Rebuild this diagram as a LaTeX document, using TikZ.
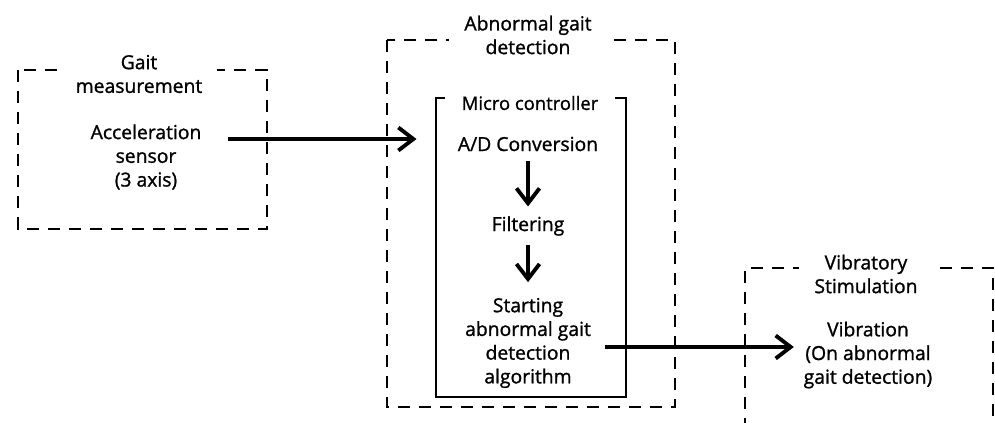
\documentclass[tikz,border=0pt]{standalone}
\usepackage{fontspec}
\setmainfont{Open Sans}[FakeBold=1.2]
\usetikzlibrary{arrows.meta, positioning, calc}

\begin{document}
\begin{tikzpicture}[
    x=0.02cm, y=-0.02cm,
    group/.style={draw, line width=1.3pt, dash pattern=on 0.25cm off 0.17cm},
    grouptitle/.style={fill=white, inner xsep=0.3cm, inner ysep=1pt, align=center, font=\fontsize{11}{13.5}\selectfont},
    txt/.style={align=center, font=\fontsize{11}{13.5}\selectfont, inner sep=2pt},
    flow/.style={-{Straight Barb[length=0.3cm, width=0.46cm]}, line width=2.2pt},
]
    \useasboundingbox (0,0) rectangle (995,423);

    % dashed groups
    \draw[group] (18,70) rectangle (267,229);
    \draw[group] (387,40) rectangle (675,407);
    \draw[group] (745,430) -- (745,268) -- (993,268) -- (993,430);
    % micro controller frame
    \draw[line width=1.5pt] (436,98) rectangle (626,397);

    \node[grouptitle] (gmeas) at (139,74) {Gait\\measurement};
    \node[grouptitle] (agd) at (528,35) {Abnormal gait\\detection};
    \node[grouptitle] (vstim) at (866,274) {Vibratory\\Stimulation};
    \node[grouptitle, inner xsep=0.33cm, font=\fontsize{10.5}{13}\selectfont] (mcu) at (530,103) {Micro controller};

    \node[txt] (sensor) at (146,157) {Acceleration\\sensor\\(3 axis)};
    \node[txt] (adc) at (528,144) {A/D Conversion};
    \node[txt] (filt) at (528,226) {Filtering};
    \node[txt] (algo) at (528,343) {Starting\\abnormal gait\\detection\\algorithm};
    \node[txt] (vib) at (868,355) {Vibration\\(On abnormal\\gait detection)};

    \draw[flow] ([xshift=0.45cm]sensor.east |- 0,139) -- ([xshift=-0.75cm]adc.west |- 0,139);
    \draw[flow, shorten <=0.12cm, shorten >=0.12cm] (adc) -- (filt);
    \draw[flow, shorten <=0.1cm, shorten >=0.24cm] (filt) -- (filt |- algo.north);
    \draw[flow] ([xshift=0.2cm]algo.east |- 0,347) -- ([xshift=-0.12cm]vib.west |- 0,347);
\end{tikzpicture}
\end{document}
